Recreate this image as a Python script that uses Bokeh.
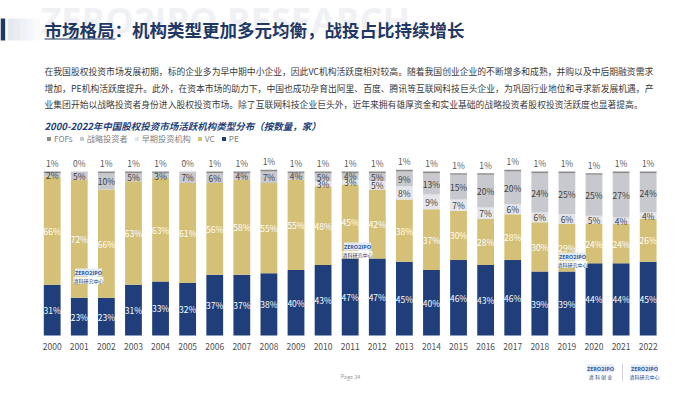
from bokeh.plotting import figure
from bokeh.models import (Label, FixedTicker, Range1d, ColumnDataSource, Legend,
                          LegendItem)
from bokeh.core.properties import value
from bokeh.embed import file_html
from bokeh.resources import INLINE

# ---------------- data ----------------
years = list(range(2000, 2023))
pe = [31, 23, 23, 31, 33, 32, 37, 37, 38, 40, 43, 47, 47, 45, 40, 46, 43, 46, 39, 39, 44, 44, 45]
vc = [66, 72, 66, 63, 63, 61, 56, 58, 55, 55, 48, 45, 42, 38, 37, 30, 28, 28, 30, 29, 24, 24, 26]
early = [0, 0, 0, 0, 0, 0, 0, 0, 0, 0, 3, 3, 5, 8, 9, 7, 7, 6, 6, 6, 5, 4, 4]
strategic = [2, 5, 10, 5, 3, 7, 6, 4, 7, 4, 5, 4, 5, 9, 13, 15, 20, 20, 24, 25, 25, 27, 24]
fofs = [1, 0, 1, 1, 1, 0, 1, 1, 1, 1, 1, 1, 1, 1, 1, 1, 1, 1, 1, 1, 1, 1, 1]
series_names = ["FOFs", "战略投资者", "早期投资机构", "VC", "PE"]

title_text = "市场格局：机构类型更加多元均衡，战投占比持续增长"
para_lines = [
    "在我国股权投资市场发展初期，标的企业多为早中期中小企业，因此VC机构活跃度相对较高。随着我国创业企业的不断增多和成熟，并购以及中后期融资需求",
    "增加，PE机构活跃度提升。此外，在资本市场的助力下，中国也成功孕育出阿里、百度、腾讯等互联网科技巨头企业，为巩固行业地位和寻求新发展机遇，产",
    "业集团开始以战略投资者身份进入股权投资市场。除了互联网科技企业巨头外，近年来拥有雄厚资金和实业基础的战略投资者股权投资活跃度也显著提高。",
]
chart_title = "2000-2022年中国股权投资市场活跃机构类型分布（按数量，家）"

# ---------------- layout constants ----------------
W, H = 700, 394
XPX = 27.09            # pixels per year
YPX = 1.64             # pixels per percent
BASE_Y = 335           # pixel row of the 0% baseline
X0 = 2000 - 51.7 / XPX
X1 = X0 + W / XPX

def fx(ref_x):
    return X0 + ref_x / XPX

def fy(ref_y):
    return (BASE_Y - ref_y) / YPX

FONT = "Noto Sans CJK SC"
NAVY = "#1F3864"
C_PE, C_VC, C_EARLY, C_STRAT, C_FOF = "#1F3E7A", "#D5C078", "#E4E5EA", "#C8C9CE", "#8C8C8C"

p = figure(width=W, height=H, output_backend="svg", toolbar_location=None,
           x_range=Range1d(X0, X1), y_range=Range1d(fy(H), fy(0)), y_axis_type=None,
           min_border_left=0, min_border_right=0, min_border_top=0, min_border_bottom=0)
p.outline_line_color = None
p.xgrid.visible = False
p.background_fill_color = "white"
p.border_fill_color = "white"

# ---------------- page decorations (behind everything) ----------------
p.add_layout(Label(x=fx(40), y=fy(20), text="ZERO2IPO RESEARCH", text_font="Open Sans",
                   text_font_size="36px", text_font_style="bold", text_color="#F0F1F4",
                   text_baseline="alphabetic", level="underlay"))
p.quad(left=fx(0), right=fx(4.7), bottom=fy(40), top=fy(18),
       fill_color=NAVY, line_color=None)
for i, a in enumerate([0.95, 0.8, 0.6, 0.4, 0.2]):
    p.quad(left=fx(7 + i * 6.5), right=fx(7 + (i + 1) * 6.5), bottom=fy(40), top=fy(18),
           fill_color="#E3E8EF", fill_alpha=a, line_color=None)

# ---------------- bars ----------------
src = ColumnDataSource(dict(year=years, pe=pe, vc=vc, early=early, strategic=strategic, fofs=fofs))
renderers = p.vbar_stack(["pe", "vc", "early", "strategic", "fofs"], x="year", width=0.62,
                         fill_color=[C_PE, C_VC, C_EARLY, C_STRAT, C_FOF],
                         line_color=None, source=src)
r_pe, r_vc, r_early, r_strat, r_fof = renderers

# ---------------- value labels ----------------
def seg_labels(vals, base, color, skip_zero=True):
    xs, ys, ts = [], [], []
    for yr, v, b in zip(years, vals, base):
        if skip_zero and v == 0:
            continue
        xs.append(yr)
        ys.append(b + v / 2)
        ts.append(f"{v}%")
    s = ColumnDataSource(dict(x=xs, y=ys, t=ts))
    p.text(x="x", y="y", text="t", source=s, text_align="center", text_baseline="middle",
           text_font=value(FONT), text_font_size="8.5px", text_color=color)

zero = [0] * len(years)
b_vc = pe
b_early = [a + b for a, b in zip(pe, vc)]
b_strat = [a + b for a, b in zip(b_early, early)]
b_fof = [a + b for a, b in zip(b_strat, strategic)]
totals = [a + b for a, b in zip(b_fof, fofs)]

seg_labels(pe, zero, "white")
seg_labels(vc, b_vc, "white")
seg_labels(early, b_early, "#404040")
seg_labels(strategic, b_strat, "#404040")
top_src = ColumnDataSource(dict(x=years, y=totals, t=[f"{v}%" for v in fofs]))
p.text(x="x", y="y", text="t", source=top_src, text_align="center", text_baseline="middle",
       y_offset=-8.5, text_font=value(FONT), text_font_size="8.5px", text_color="#595959")

# ---------------- x axis (fixed at the 0% baseline) ----------------
ax = p.xaxis[0]
ax.fixed_location = 0
ax.ticker = FixedTicker(ticks=years)
ax.axis_line_color = None
ax.major_tick_line_color = None
ax.minor_tick_line_color = None
ax.major_tick_out = 0
ax.major_tick_in = 0
ax.major_label_standoff = 7
ax.major_label_text_font = FONT
ax.major_label_text_font_size = "8.5px"
ax.major_label_text_color = "#505050"

# ---------------- legend ----------------
legend = Legend(items=[LegendItem(label=n, renderers=[r]) for n, r in
                       zip(series_names, [r_fof, r_strat, r_early, r_vc, r_pe])],
                orientation="horizontal", location=(46, H - 144),
                label_text_font=FONT, label_text_font_size="8.2px", label_text_color="#7F7F7F",
                glyph_width=5, glyph_height=5, label_standoff=3, spacing=6,
                label_height=10, label_width=10, padding=0, margin=0,
                border_line_color=None, background_fill_alpha=0)
p.add_layout(legend)

# ---------------- texts ----------------
p.add_layout(Label(x=fx(44), y=fy(29), text=title_text, text_font=FONT,
                   text_font_size="17.5px", text_font_style="bold", text_color=NAVY,
                   text_baseline="middle"))
p.segment(x0=fx(44), x1=fx(115), y0=fy(38.5), y1=fy(38.5), line_color=NAVY, line_width=1.2)

for line, yy in zip(para_lines, [71, 87.7, 104.3]):
    p.add_layout(Label(x=fx(44), y=fy(yy), text=line, text_font=FONT,
                       text_font_size="8.8px", text_color="#3A3A3A", text_baseline="middle"))

p.add_layout(Label(x=fx(44), y=fy(125.7), text=chart_title, text_font=FONT,
                   text_font_size="9.5px", text_font_style="bold italic", text_color="#1F3F7A",
                   text_baseline="middle"))

# logos
def logo(cx, cy, sub="清科研究中心"):
    p.add_layout(Label(x=fx(cx), y=fy(cy), text="ZERO2IPO", text_font="Open Sans",
                       text_font_size="5.5px", text_font_style="bold", text_color="#2A5BA8",
                       text_align="center", text_baseline="middle",
                       background_fill_color="#E4EAF5"))
    p.add_layout(Label(x=fx(cx), y=fy(cy + 8), text=sub, text_font=FONT,
                       text_font_size="5px", text_color="#1F3E7A", text_align="center",
                       text_baseline="middle", background_fill_color="white",
                       background_fill_alpha=0.85))

logo(88, 272)
logo(357, 246)
logo(572, 256)
logo(600, 368, "清 科 创 业")
logo(644, 368)
p.segment(x0=fx(622), x1=fx(622), y0=fy(363), y1=fy(381), line_color="#C8C8C8", line_width=0.8)
p.add_layout(Label(x=fx(350), y=fy(376), text="Page 34", text_font=FONT,
                   text_font_size="5.5px", text_color="#9A9A9A", text_align="center",
                   text_baseline="middle"))

open("out.html", "w").write(file_html(p, INLINE))
